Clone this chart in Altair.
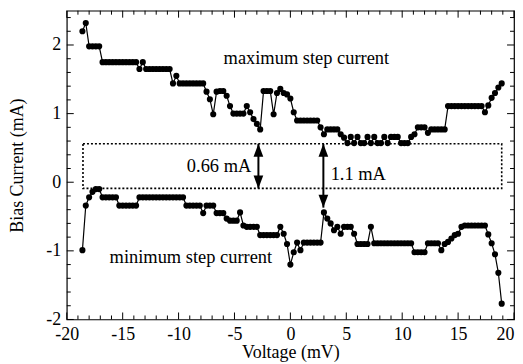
import altair as alt
import pandas as pd

# ---- data ----
volt = [-18.6, -18.3, -18.0, -17.7, -17.4, -17.1, -16.8, -16.5, -16.2, -15.9,
        -15.6, -15.3, -15.0, -14.7, -14.4, -14.1, -13.8, -13.5, -13.2, -12.9,
        -12.6, -12.3, -12.0, -11.7, -11.4, -11.1, -10.8, -10.5, -10.2, -9.9,
        -9.6, -9.3, -9.0, -8.7, -8.4, -8.1, -7.8, -7.5, -7.2, -6.9,
        -6.6, -6.3, -6.0, -5.7, -5.4, -5.1, -4.8, -4.5, -4.2, -3.9,
        -3.6, -3.3, -3.0, -2.7, -2.4, -2.1, -1.8, -1.5, -1.2, -0.9,
        -0.6, -0.3, 0.0, 0.3, 0.6, 0.9, 1.2, 1.5, 1.8, 2.1,
        2.4, 2.7, 3.0, 3.3, 3.6, 3.9, 4.2, 4.5, 4.8, 5.1,
        5.4, 5.7, 6.0, 6.3, 6.6, 6.9, 7.2, 7.5, 7.8, 8.1,
        8.4, 8.7, 9.0, 9.3, 9.6, 9.9, 10.2, 10.5, 10.8, 11.1,
        11.4, 11.7, 12.0, 12.3, 12.6, 12.9, 13.2, 13.5, 13.8, 14.1,
        14.4, 14.7, 15.0, 15.3, 15.6, 15.9, 16.2, 16.5, 16.8, 17.1,
        17.4, 17.7, 18.0, 18.3, 18.6, 18.9]

i_max = [2.20, 2.32, 1.98, 1.98, 1.98, 1.98, 1.75, 1.75, 1.75, 1.75,
         1.75, 1.75, 1.75, 1.75, 1.75, 1.75, 1.75, 1.65, 1.75, 1.65,
         1.65, 1.65, 1.65, 1.65, 1.65, 1.65, 1.65, 1.44, 1.55, 1.44,
         1.44, 1.44, 1.44, 1.44, 1.44, 1.44, 1.44, 1.32, 1.21, 0.99,
         1.32, 1.33, 1.33, 1.26, 1.11, 1.00, 1.00, 1.00, 1.00, 1.11,
         1.02, 0.92, 0.85, 0.77, 1.33, 1.33, 1.33, 0.99, 1.30, 1.36,
         1.30, 1.28, 1.22, 1.02, 0.90, 0.90, 0.90, 0.90, 0.90, 0.90,
         0.90, 0.80, 0.70, 0.77, 0.77, 0.77, 0.77, 0.70, 0.65, 0.57,
         0.66, 0.57, 0.66, 0.57, 0.57, 0.66, 0.57, 0.66, 0.57, 0.57,
         0.66, 0.57, 0.66, 0.66, 0.66, 0.57, 0.57, 0.57, 0.66, 0.70,
         0.80, 0.80, 0.80, 0.72, 0.77, 0.77, 0.77, 0.77, 0.77, 1.11,
         1.11, 1.11, 1.11, 1.11, 1.11, 1.11, 1.11, 1.11, 1.11, 1.11,
         1.02, 1.12, 1.23, 1.30, 1.38, 1.44]

i_min = [-0.99, -0.34, -0.22, -0.14, -0.10, -0.10, -0.22, -0.22, -0.22, -0.22,
         -0.22, -0.34, -0.34, -0.34, -0.34, -0.34, -0.34, -0.22, -0.22, -0.22,
         -0.22, -0.22, -0.22, -0.22, -0.22, -0.22, -0.22, -0.22, -0.22, -0.22,
         -0.22, -0.34, -0.34, -0.34, -0.34, -0.34, -0.45, -0.34, -0.34, -0.34,
         -0.45, -0.45, -0.45, -0.53, -0.56, -0.56, -0.56, -0.44, -0.63, -0.65,
         -0.65, -0.65, -0.65, -0.77, -0.77, -0.77, -0.77, -0.77, -0.77, -0.65,
         -0.75, -0.90, -1.20, -1.02, -0.88, -0.99, -0.88, -0.88, -0.88, -0.88,
         -0.88, -0.88, -0.44, -0.53, -0.60, -0.70, -0.65, -0.75, -0.65, -0.65,
         -0.65, -0.75, -0.90, -0.90, -0.90, -0.90, -0.65, -0.89, -0.89, -0.89,
         -0.89, -0.89, -0.89, -0.89, -0.89, -0.89, -0.89, -0.89, -0.89, -1.02,
         -1.02, -1.02, -1.02, -0.89, -0.89, -0.89, -0.89, -0.99, -0.90, -0.87,
         -0.82, -0.77, -0.75, -0.65, -0.63, -0.63, -0.63, -0.63, -0.63, -0.63,
         -0.63, -0.76, -0.89, -1.05, -1.32, -1.77]

x_domain = [-20, 20]
y_domain = [-2, 2.5]
x_major = [-20, -15, -10, -5, 0, 5, 10, 15, 20]
x_minor = [-19, -18, -17, -16, -14, -13, -12, -11, -9, -8, -7, -6, -4, -3, -2, -1,
           1, 2, 3, 4, 6, 7, 8, 9, 11, 12, 13, 14, 16, 17, 18, 19]
y_major = [-2, -1, 0, 1, 2]
y_minor = [-1.8, -1.6, -1.4, -1.2, -0.8, -0.6, -0.4, -0.2, 0.2, 0.4, 0.6, 0.8,
           1.2, 1.4, 1.6, 1.8, 2.2, 2.4]

box_x = [-18.55, 18.9]
box_y = [-0.09, 0.56]
arrow_x = [-2.86, 2.95]
arrow_top = [0.56, 0.56]
arrow_bot = [-0.09, -0.37]

labels_center = ["maximum step current", "minimum step current"]
labels_center_x = [1.43, -8.9]
labels_center_y = [1.81, -1.09]
label_left = ["0.66 mA"]
label_left_x = [-3.5]
label_left_y = [0.24]
label_right = ["1.1 mA"]
label_right_x = [3.6]
label_right_y = [0.12]

FONT = "Liberation Serif"
W, H = 449, 310

xs = alt.Scale(domain=x_domain, nice=False, zero=False)
ys = alt.Scale(domain=y_domain, nice=False, zero=False)

df_max = pd.DataFrame({"v": volt, "i": i_max})
df_min = pd.DataFrame({"v": volt, "i": i_min})

x_axis = alt.Axis(values=x_major, ticks=False, domain=False, grid=False,
                  labelExpr="datum.value + ''",
                  labelAlign={"expr": "datum.value == 20 ? 'right' : 'center'"},
                  labelPadding=6, title="Voltage (mV)", titlePadding=0)
y_axis = alt.Axis(values=y_major, ticks=False, domain=False, grid=False,
                  labelExpr="datum.value + ''",
                  labelPadding=6, title="Bias Current (mA)", titlePadding=19)

line_max = alt.Chart(df_max).mark_line(color="black", strokeWidth=1.2).encode(
    x=alt.X("v:Q", scale=xs, axis=x_axis),
    y=alt.Y("i:Q", scale=ys, axis=y_axis))
pts_max = alt.Chart(df_max).mark_circle(color="black", size=38, opacity=1).encode(
    x=alt.X("v:Q", scale=xs), y=alt.Y("i:Q", scale=ys))
line_min = alt.Chart(df_min).mark_line(color="black", strokeWidth=1.2).encode(
    x=alt.X("v:Q", scale=xs), y=alt.Y("i:Q", scale=ys))
pts_min = alt.Chart(df_min).mark_circle(color="black", size=38, opacity=1).encode(
    x=alt.X("v:Q", scale=xs), y=alt.Y("i:Q", scale=ys))


def X(field):
    return alt.X(field, type="quantitative", scale=xs)


def Y(field):
    return alt.Y(field, type="quantitative", scale=ys)


box_df = pd.DataFrame({"x0": [box_x[0]], "x1": [box_x[1]],
                       "y0": [box_y[0]], "y1": [box_y[1]]})
box = alt.Chart(box_df).mark_rect(fillOpacity=0, stroke="black", strokeWidth=1.6,
                                  strokeDash=[2, 2]).encode(
    x=X("x0"), x2="x1", y=Y("y0"), y2="y1")

arr_df = pd.DataFrame({"x": arrow_x, "top": arrow_top, "bot": arrow_bot})
shafts = alt.Chart(arr_df).mark_rule(color="black", strokeWidth=2).encode(
    x=X("x"), y=Y("top"), y2="bot")
head_up = alt.Chart(arr_df).mark_point(shape="M0,-1L0.75,1L-0.75,1Z", filled=True,
                                       color="black", opacity=1, size=169,
                                       yOffset=6.5).encode(x=X("x"), y=Y("top"))
head_dn = alt.Chart(arr_df).mark_point(shape="M0,1L0.75,-1L-0.75,-1Z", filled=True,
                                       color="black", opacity=1, size=169,
                                       yOffset=-6.5).encode(x=X("x"), y=Y("bot"))


def text_layer(texts, tx, ty, align):
    d = pd.DataFrame({"t": texts, "x": tx, "y": ty})
    return alt.Chart(d).mark_text(font=FONT, fontSize=18.5, color="black",
                                  align=align, baseline="middle").encode(
        x=X("x"), y=Y("y"), text="t")


t_center = text_layer(labels_center, labels_center_x, labels_center_y, "center")
t_left = text_layer(label_left, label_left_x, label_left_y, "right")
t_right = text_layer(label_right, label_right_x, label_right_y, "left")


# inward frame ticks on all four sides
def xticks(vals, length):
    d = pd.DataFrame({"v": vals})
    bottom = alt.Chart(d).mark_rule(color="black", strokeWidth=1).encode(
        x=X("v"), y=alt.value(H), y2=alt.value(H - length))
    top = alt.Chart(d).mark_rule(color="black", strokeWidth=1).encode(
        x=X("v"), y=alt.value(0), y2=alt.value(length))
    return [bottom, top]


def yticks(vals, length):
    d = pd.DataFrame({"v": vals})
    left = alt.Chart(d).mark_rule(color="black", strokeWidth=1).encode(
        y=Y("v"), x=alt.value(0), x2=alt.value(length))
    right = alt.Chart(d).mark_rule(color="black", strokeWidth=1).encode(
        y=Y("v"), x=alt.value(W), x2=alt.value(W - length))
    return [left, right]


layers = [line_max, box, pts_max, line_min, pts_min, shafts, head_up, head_dn,
          t_center, t_left, t_right]
layers += xticks(x_major, 7) + xticks(x_minor, 4) + yticks(y_major, 7) + yticks(y_minor, 4)

chart = alt.layer(*layers).properties(
    width=W, height=H,
    padding={"left": 1, "top": 1, "right": 0, "bottom": 0},
).configure_view(
    stroke="black", strokeWidth=1.2
).configure_axis(
    labelFont=FONT, labelFontSize=18, labelColor="black",
    titleFont=FONT, titleFontSize=18, titleFontWeight="normal", titleColor="black",
)

chart.save("out.html", embed_options={"renderer": "svg", "actions": False})
